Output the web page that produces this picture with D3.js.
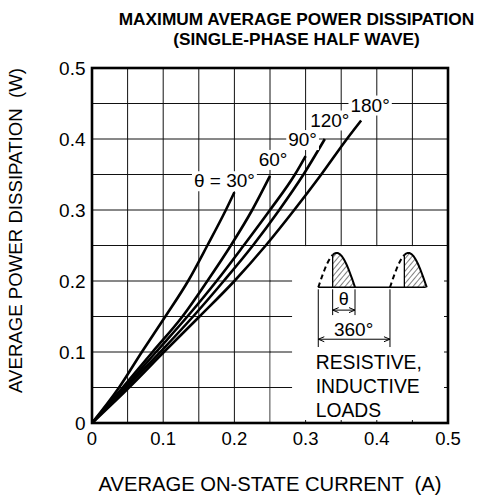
<!DOCTYPE html>
<html>
<head>
<meta charset="utf-8">
<script src="https://cdn.jsdelivr.net/npm/d3@7"></script>
<style>
  html, body { margin: 0; padding: 0; background: #fff; }
  svg { display: block; font-family: "Liberation Sans", Arial, Helvetica, sans-serif; }
  text { white-space: pre; }
</style>
</head>
<body>
<svg id="chart" width="477" height="498"></svg>
<script>
// ---------- data ----------
const xTicks = [0, 0.1, 0.2, 0.3, 0.4, 0.5];
const yTicks = [0, 0.1, 0.2, 0.3, 0.4, 0.5];
const xTickLabels = ["0", "0.1", "0.2", "0.3", "0.4", "0.5"];
const yTickLabels = ["0", "0.1", "0.2", "0.3", "0.4", "0.5"];
const gridSteps = [0, 0.05, 0.1, 0.15, 0.2, 0.25, 0.3, 0.35, 0.4, 0.45, 0.5];

const seriesNames = ["θ = 30°", "60°", "90°", "120°", "180°"];
const current30  = [0, 0.038, 0.070, 0.103, 0.135, 0.162, 0.188, 0.200];
const power30    = [0, 0.05, 0.10, 0.15, 0.20, 0.25, 0.30, 0.325];
const current60  = [0, 0.043, 0.085, 0.127, 0.162, 0.195, 0.225, 0.250];
const power60    = [0, 0.05, 0.10, 0.15, 0.20, 0.25, 0.30, 0.348];
const current90  = [0, 0.046, 0.090, 0.134, 0.175, 0.213, 0.250, 0.285, 0.300];
const power90    = [0, 0.05, 0.10, 0.15, 0.20, 0.25, 0.30, 0.35, 0.376];
const current120 = [0, 0.048, 0.096, 0.142, 0.185, 0.226, 0.263, 0.297, 0.327];
const power120   = [0, 0.05, 0.10, 0.15, 0.20, 0.25, 0.30, 0.35, 0.40];
const current180 = [0, 0.052, 0.101, 0.151, 0.200, 0.244, 0.284, 0.322, 0.358, 0.378];
const power180   = [0, 0.05, 0.10, 0.15, 0.20, 0.25, 0.30, 0.35, 0.40, 0.426];

const seriesCurrents = [current30, current60, current90, current120, current180];
const seriesPowers   = [power30, power60, power90, power120, power180];

// ---------- layout ----------
const svg = d3.select("#chart");
const L = 92, R = 448, T = 68, B = 423;
const x = d3.scaleLinear().domain([0, 0.5]).range([L, R]);
const y = d3.scaleLinear().domain([0, 0.5]).range([B, T]);

// title
svg.append("text").attr("x", 296.5).attr("y", 25).attr("text-anchor", "middle")
  .attr("font-size", 17.3).attr("font-weight", "bold").text("MAXIMUM AVERAGE POWER DISSIPATION");
svg.append("text").attr("x", 296.5).attr("y", 45).attr("text-anchor", "middle")
  .attr("font-size", 17.3).attr("font-weight", "bold").text("(SINGLE-PHASE HALF WAVE)");

// grid
const grid = svg.append("g").attr("stroke", "#111").attr("stroke-width", 1);
gridSteps.slice(1, -1).forEach(v => {
  grid.append("line").attr("x1", x(v)).attr("x2", x(v)).attr("y1", y(0)).attr("y2", y(0.5));
  grid.append("line").attr("x1", x(0)).attr("x2", x(0.5)).attr("y1", y(v)).attr("y2", y(v));
});

// inset white box hiding grid
svg.append("rect").attr("x", x(0.25) + 0.6).attr("y", y(0.25) + 0.6)
  .attr("width", x(0.5) - x(0.25) - 0.6).attr("height", y(0) - y(0.25) - 0.6).attr("fill", "#fff");
const stubs = svg.append("g").attr("stroke", "#111").attr("stroke-width", 1);
[0.05, 0.1, 0.15, 0.2].forEach(v => {
  stubs.append("line").attr("x1", x(0.25)).attr("x2", x(0.281)).attr("y1", y(v)).attr("y2", y(v));
  stubs.append("line").attr("x1", x(0.5) - 4).attr("x2", x(0.5)).attr("y1", y(v)).attr("y2", y(v));
});
[0.3, 0.35, 0.4, 0.45].forEach(v => {
  stubs.append("line").attr("x1", x(v)).attr("x2", x(v)).attr("y1", y(0) - 3).attr("y2", y(0));
});

// curves
const line = d3.line().x(d => x(d[0])).y(d => y(d[1])).curve(d3.curveMonotoneX);
seriesCurrents.forEach((cs, i) => {
  const pts = cs.map((c, j) => [c, seriesPowers[i][j]]);
  svg.append("path").attr("d", line(pts)).attr("fill", "none")
    .attr("stroke", "#000").attr("stroke-width", 2.6);
});

// curve labels with white backgrounds
const labelOffsets = [[-10, -5], [3, -10], [-3, -10], [5, -12.5], [9, -9]];
seriesCurrents.forEach((cs, i) => {
  const n = cs.length - 1;
  const px = x(cs[n]) + labelOffsets[i][0];
  const py = y(seriesPowers[i][n]) + labelOffsets[i][1];
  const g = svg.append("g");
  const t = g.append("text").attr("x", px).attr("y", py).attr("text-anchor", "middle")
    .attr("font-size", 19).text(seriesNames[i]);
  const bb = t.node().getBBox();
  g.insert("rect", "text").attr("x", bb.x - 2).attr("y", bb.y + 1).attr("width", bb.width + 4)
    .attr("height", bb.height - 1).attr("fill", "#fff");
});

// frame
svg.append("rect").attr("x", L).attr("y", T).attr("width", R - L).attr("height", B - T)
  .attr("fill", "none").attr("stroke", "#000").attr("stroke-width", 2.6);

// tick labels
xTicks.forEach((v, i) => {
  svg.append("text").attr("x", x(v)).attr("y", 445).attr("text-anchor", "middle")
    .attr("font-size", 18.5).text(xTickLabels[i]);
});
yTicks.forEach((v, i) => {
  svg.append("text").attr("x", 85.5).attr("y", y(v) + 7).attr("text-anchor", "end")
    .attr("font-size", 19).text(yTickLabels[i]);
});

// axis titles
svg.append("text").attr("x", 270).attr("y", 491).attr("text-anchor", "middle")
  .attr("font-size", 19.5).attr("textLength", 343).attr("lengthAdjust", "spacingAndGlyphs")
  .text("AVERAGE ON-STATE CURRENT  (A)");
svg.append("text").attr("transform", `translate(21.5, ${(T + 393) / 2}) rotate(-90)`)
  .attr("text-anchor", "middle").attr("font-size", 18.5)
  .attr("textLength", 325).attr("lengthAdjust", "spacingAndGlyphs")
  .text("AVERAGE POWER DISSIPATION  (W)");

// ---------- inset waveform ----------
const defs = svg.append("defs");
const pat = defs.append("pattern").attr("id", "hatch").attr("patternUnits", "userSpaceOnUse")
  .attr("width", 4).attr("height", 10).attr("patternTransform", "rotate(40)");
pat.append("line").attr("x1", 0).attr("y1", 0).attr("x2", 0).attr("y2", 10)
  .attr("stroke", "#000").attr("stroke-width", 1);

const ins = svg.append("g");
const a1 = x(0.3178), b1 = x(0.3694), s1 = x(0.3380);
const period = x(0.4185) - a1;
const y0 = y(0.1911), amp = y(0.1911) - y(0.2395);
const yLow = y(0.107), yMid = y(0.152);
const waveY = (xx, a, b) => y0 - amp * Math.sin(Math.PI * (xx - a) / (b - a));

[0, 1].forEach(k => {
  const a = a1 + k * period, b = b1 + k * period, s = s1 + k * period;
  const solid = d3.range(0, 41).map(j => { const xx = s + (b - s) * j / 40; return [xx, waveY(xx, a, b)]; });
  const dashed = d3.range(0, 21).map(j => { const xx = a + (s - a) * j / 20; return [xx, waveY(xx, a, b)]; });
  const area = [[s, y0]].concat(solid).concat([[b, y0]]);
  ins.append("path").attr("d", d3.line()(area) + "Z").attr("fill", "url(#hatch)").attr("stroke", "none");
  ins.append("path").attr("d", d3.line()(solid)).attr("fill", "none").attr("stroke", "#000").attr("stroke-width", 2);
  ins.append("line").attr("x1", s).attr("x2", s).attr("y1", y0).attr("y2", waveY(s, a, b))
    .attr("stroke", "#000").attr("stroke-width", 1.3);
  ins.append("path").attr("d", d3.line()(dashed)).attr("fill", "none").attr("stroke", "#000")
    .attr("stroke-width", 2).attr("stroke-dasharray", "5,3.5");
});
// baseline
ins.append("line").attr("x1", a1).attr("x2", x(0.4687)).attr("y1", y0).attr("y2", y0)
  .attr("stroke", "#000").attr("stroke-width", 1.5);
// dimension lines
const dim = ins.append("g").attr("stroke", "#000").attr("stroke-width", 1);
[[a1, yLow], [s1, yMid], [b1, yMid], [a1 + period, yLow]].forEach(([xx, yy]) => {
  dim.append("line").attr("x1", xx).attr("x2", xx).attr("y1", y0 + 2).attr("y2", yy);
});
function arrow(xa, xb, yy) {
  dim.append("line").attr("x1", xa).attr("x2", xb).attr("y1", yy).attr("y2", yy);
  dim.append("path").attr("fill", "none").attr("d", `M${xa + 6},${yy - 2.5}L${xa},${yy}L${xa + 6},${yy + 2.5}`);
  dim.append("path").attr("fill", "none").attr("d", `M${xb - 6},${yy - 2.5}L${xb},${yy}L${xb - 6},${yy + 2.5}`);
}
arrow(s1, b1, y(0.159));
arrow(a1, a1 + period, y(0.118));
ins.append("text").attr("x", (s1 + b1) / 2).attr("y", y(0.166)).attr("text-anchor", "middle")
  .attr("font-size", 18).text("θ");
ins.append("text").attr("x", (a1 + a1 + period) / 2 - 0.5).attr("y", y(0.122)).attr("text-anchor", "middle")
  .attr("font-size", 19).text("360°");
["RESISTIVE,", "INDUCTIVE", "LOADS"].forEach((t, i) => {
  ins.append("text").attr("x", a1 - 2.5).attr("y", 369.3 + i * 23.7).attr("font-size", 19.3).text(t);
});
</script>
</body>
</html>
